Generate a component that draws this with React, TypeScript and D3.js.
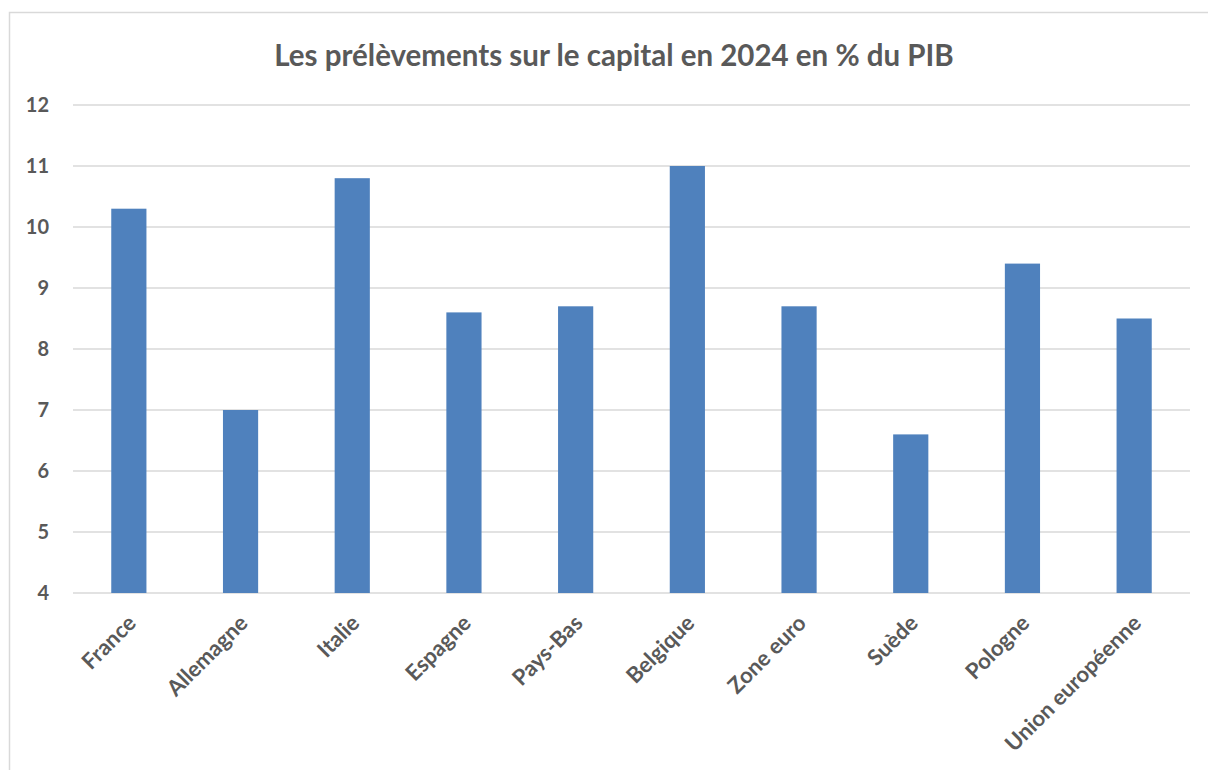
import React, { useEffect, useRef } from 'react';
import * as d3 from 'd3';

// données
const countries = ['France', 'Allemagne', 'Italie', 'Espagne', 'Pays-Bas', 'Belgique', 'Zone euro', 'Suède', 'Pologne', 'Union européenne'];
const values = [10.3, 7.0, 10.8, 8.6, 8.7, 11.0, 8.7, 6.6, 9.4, 8.5];
const yTicks = [4, 5, 6, 7, 8, 9, 10, 11, 12];
const title = 'Les prélèvements sur le capital en 2024 en % du PIB';

const W = 1208, H = 770;
const FONT = 'Lato, "Open Sans", sans-serif';
const TEXT = '#595959';

export default function App() {
  const ref = useRef<SVGSVGElement>(null);

  useEffect(() => {
    const svg = d3.select(ref.current);
    svg.selectAll('*').remove();

    const left = 73, right = 1190, top = 105, bottom = 593;

    //FRAME
    svg.append('rect')
      .attr('x', 9.5).attr('y', 12.5)
      .attr('width', W + 20).attr('height', H + 20)
      .attr('fill', '#fff').attr('stroke', '#d9d9d9').attr('stroke-width', 1.5);

    //TITLE
    svg.append('text')
      .attr('x', 614).attr('y', 66)
      .attr('text-anchor', 'middle')
      .attr('font-family', FONT).attr('font-weight', 700).attr('font-size', 29.5)
      .attr('fill', TEXT)
      .text(title);

    //SCALES
    const x = d3.scaleBand<string>().domain(countries).range([left, right]).paddingInner(0.685).paddingOuter(0.3425);
    const y = d3.scaleLinear().domain([4, 12]).range([bottom, top]);

    //GRIDLINES
    svg.append('g').selectAll('line').data(yTicks).join('line')
      .attr('x1', left).attr('x2', right)
      .attr('y1', d => y(d)).attr('y2', d => y(d))
      .attr('stroke', '#d9d9d9').attr('stroke-width', 1.5);

    //Y LABELS
    svg.append('g').selectAll('text').data(yTicks).join('text')
      .attr('x', 49).attr('y', d => y(d))
      .attr('dy', '0.36em')
      .attr('text-anchor', 'end')
      .attr('font-family', FONT).attr('font-weight', 700).attr('font-size', 20)
      .attr('fill', TEXT)
      .text(d => d);

    //BARS
    svg.append('g').selectAll('rect').data(values).join('rect')
      .attr('x', (d, i) => x(countries[i])!)
      .attr('width', x.bandwidth())
      .attr('y', d => y(d))
      .attr('height', d => y(4) - y(d))
      .attr('fill', '#4f81bd');

    //X LABELS
    svg.append('g').selectAll('text').data(countries).join('text')
      .attr('transform', d => {
        const cx = x(d)! + x.bandwidth() / 2 + 3;
        return `translate(${cx},${bottom + 26}) rotate(-45)`;
      })
      .attr('text-anchor', 'end')
      .attr('dy', '0.35em')
      .attr('font-family', FONT).attr('font-weight', 700).attr('font-size', 22)
      .attr('fill', TEXT)
      .text(d => d);
  }, []);

  return <svg ref={ref} width={W} height={H} style={{ position: 'absolute', left: 0, top: 0 }} />;
}
